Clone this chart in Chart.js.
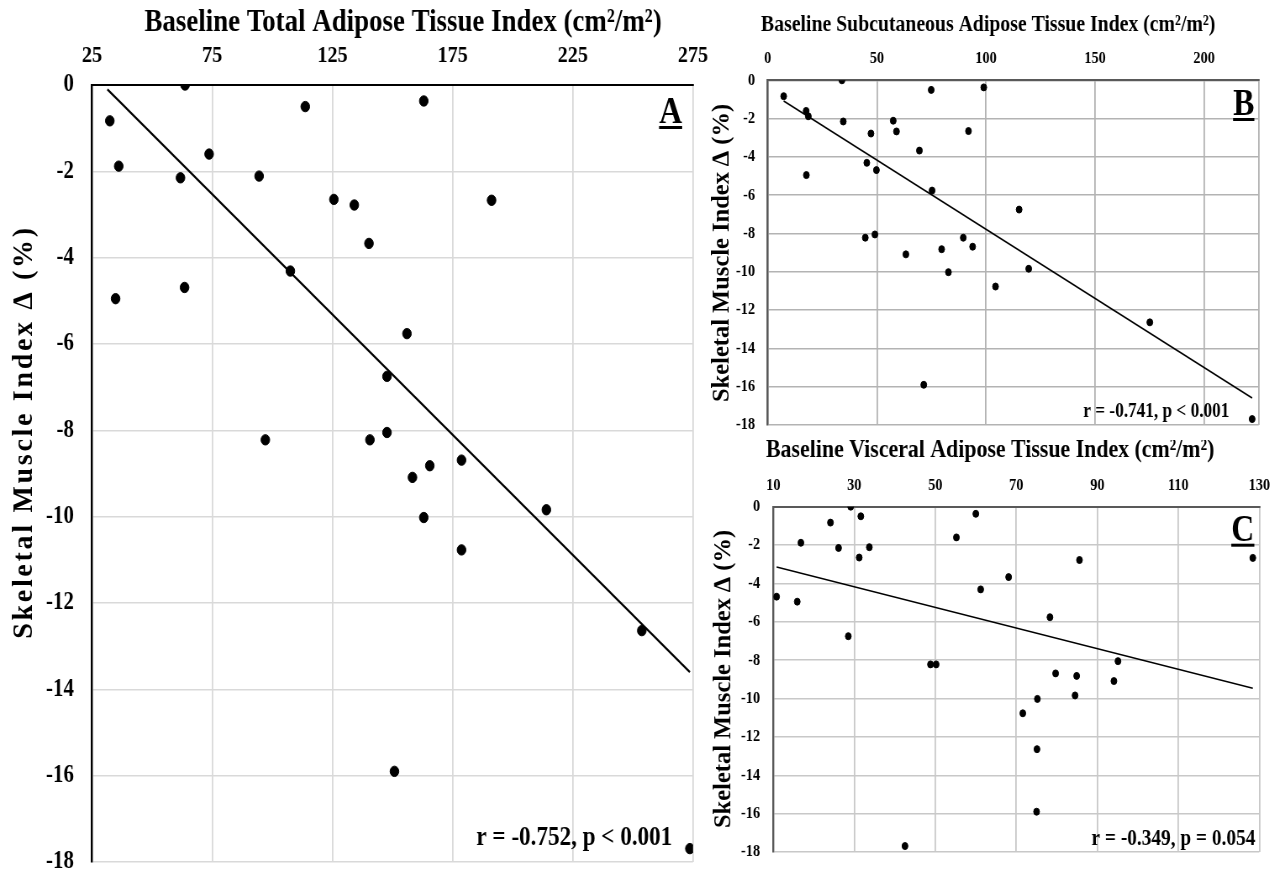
<!DOCTYPE html>
<html>
<head>
<meta charset="utf-8">
<script src="https://cdn.jsdelivr.net/npm/chart.js@4.4.0/dist/chart.umd.min.js"></script>
<style>
  html, body { margin: 0; padding: 0; background: #fff; }
  #figure { position: relative; width: 1285px; height: 878px; overflow: hidden; }
  #figure canvas { position: absolute; }
</style>
</head>
<body>
<div id="figure">
  <canvas id="panelA"></canvas>
  <canvas id="panelB"></canvas>
  <canvas id="panelC"></canvas>
</div>
<script>
// Skeletal muscle index change (%) for each subject, same order in every panel
const smiChange = [0, -0.37, -0.50, -0.83, -1.60, -1.88, -2.11, -2.15, -2.65, -2.67,
  -2.78, -3.67, -4.31, -4.69, -4.95, -5.76, -6.75, -8.05, -8.22, -8.22,
  -8.69, -8.82, -9.09, -9.84, -10.02, -10.77, -12.64, -15.90, -17.69];

// Baseline adipose tissue indices (cm²/m²)
const tatIndex = [63.7, 163.0, 113.7, 32.4, 73.7, 36.1, 94.5, 61.8, 125.6, 191.2,
  134.1, 140.2, 107.5, 63.5, 34.8, 156.0, 147.7, 147.7, 97.1, 140.6,
  178.7, 165.5, 158.3, 214.0, 163.0, 178.7, 253.7, 150.8, 273.7];
const satIndex = [34.0, 99.0, 74.9, 7.3, 17.6, 18.6, 57.5, 34.6, 92.0, 59.0,
  47.3, 69.5, 45.4, 49.8, 17.7, 75.3, 115.2, 49.1, 44.7, 89.6,
  93.9, 79.7, 63.3, 119.6, 82.8, 104.4, 175.1, 71.5, 222.0];
const vatIndex = [29.1, 60.0, 31.6, 24.1, 55.2, 16.8, 33.7, 26.1, 31.2, 128.4,
  85.6, 68.1, 61.2, 10.8, 15.9, 78.3, 28.5, 95.1, 48.8, 50.2,
  79.7, 84.9, 94.1, 84.5, 75.2, 71.6, 75.1, 75.0, 42.5];

// Linear trend lines (end points)
const trendTatX = [31.4, 273.7];
const trendTatY = [-0.10, -13.60];
const trendSatX = [7.3, 222.0];
const trendSatY = [-1.08, -16.59];
const trendVatX = [10.8, 128.4];
const trendVatY = [-3.14, -9.46];

// Tick values
const tatTicks = [25, 75, 125, 175, 225, 275];
const satTicks = [0, 50, 100, 150, 200];
const vatTicks = [10, 30, 50, 70, 90, 110, 130];
const smiTicks = [0, -2, -4, -6, -8, -10, -12, -14, -16, -18];

// the figure is drawn wider and squeezed horizontally to get the condensed type
const SQUEEZE = 0.84;
const SERIF = '"Liberation Serif", "Times New Roman", serif';
const lx = v => v / SQUEEZE;

const panelText = {
  id: 'panelText',
  afterDraw(chart, args, o) {
    const ctx = chart.ctx;
    const font = sz => `bold ${sz}px ${SERIF}`;
    ctx.save();
    ctx.fillStyle = '#000';
    ctx.textBaseline = 'alphabetic';

    // axis title above the top axis
    ctx.font = font(o.title.size);
    ctx.textAlign = 'center';
    ctx.fillText(o.title.text, lx(o.title.x), o.title.y);

    // rotated y title, undo the squeeze so it keeps natural proportions
    ctx.save();
    ctx.translate(lx(o.yTitle.x), o.yTitle.y);
    ctx.scale(1 / SQUEEZE, 1);
    ctx.rotate(-Math.PI / 2);
    ctx.font = font(o.yTitle.size);
    ctx.letterSpacing = (o.yTitle.spacing || 0) + 'px';
    ctx.textAlign = 'center';
    ctx.textBaseline = 'middle';
    ctx.fillText(o.yTitle.text, 0, 0);
    ctx.restore();

    // underlined panel letter
    ctx.font = font(o.letter.size);
    ctx.textAlign = 'right';
    ctx.fillText(o.letter.text, lx(o.letter.x), o.letter.y);
    const w = ctx.measureText(o.letter.text).width;
    ctx.fillRect(lx(o.letter.x) - w, o.letter.y + 3, w, 3);

    // correlation note
    ctx.font = font(o.note.size);
    ctx.fillText(o.note.text, lx(o.note.x), o.note.y);
    ctx.restore();
  }
};

function makePanel(id, p) {
  const canvas = document.getElementById(id);
  canvas.width = Math.round(lx(p.w));
  canvas.height = p.h;
  canvas.style.left = p.left + 'px';
  canvas.style.top = p.top + 'px';
  canvas.style.width = p.w + 'px';
  canvas.style.height = p.h + 'px';

  const points = p.xs.map((x, i) => ({ x: x, y: smiChange[i] }));
  const trend = p.trendX.map((x, i) => ({ x: x, y: p.trendY[i] }));

  return new Chart(canvas, {
    type: 'scatter',
    data: {
      datasets: [
        {
          data: points,
          backgroundColor: '#000',
          borderColor: '#000',
          pointRadius: p.dot,
          pointHoverRadius: p.dot,
          order: 1
        },
        {
          type: 'line',
          data: trend,
          borderColor: '#000',
          borderWidth: p.trendWidth,
          pointRadius: 0,
          fill: false,
          order: 2
        }
      ]
    },
    options: {
      responsive: false,
      animation: false,
      devicePixelRatio: 1,
      layout: {
        autoPadding: false,
        padding: { left: 0, top: 0, right: lx(p.padRight), bottom: p.padBottom }
      },
      plugins: {
        legend: { display: false },
        tooltip: { enabled: false },
        panelText: p.text
      },
      scales: {
        x: {
          type: 'linear',
          position: 'top',
          min: p.xMin,
          max: p.xMax,
          afterBuildTicks: s => {
            const vals = p.xTicks.slice();
            if (vals[vals.length - 1] !== p.xMax) vals.push(p.xMax);
            s.ticks = vals.map(v => ({ value: v }));
          },
          afterFit: s => {
            s.height = p.axisTop;
            s.paddingLeft = 0;
            s.paddingRight = 0;
          },
          ticks: {
            color: '#000',
            padding: p.xTickPad,
            maxRotation: 0,
            autoSkip: false,
            font: { family: SERIF, weight: 'bold', size: p.tickSize },
            callback: v => (p.xTicks.includes(v) ? String(v) : '')
          },
          grid: { color: p.grid, lineWidth: lx(p.gridWidth), drawTicks: false },
          border: { color: p.border, width: 2 }
        },
        y: {
          type: 'linear',
          min: -18,
          max: 0,
          afterBuildTicks: s => { s.ticks = smiTicks.map(v => ({ value: v })); },
          afterFit: s => {
            s.width = lx(p.axisLeft);
            s.paddingTop = 0;
            s.paddingBottom = 0;
          },
          ticks: {
            color: '#000',
            padding: lx(p.yTickPad),
            autoSkip: false,
            font: { family: SERIF, weight: 'bold', size: p.yTickSize || p.tickSize },
            callback: v => String(v)
          },
          grid: { color: p.grid, lineWidth: p.gridWidth, drawTicks: false },
          border: { color: p.border, width: lx(2) }
        }
      }
    },
    plugins: [panelText]
  });
}

// A: total adipose tissue
makePanel('panelA', {
  left: 0, top: 0, w: 715, h: 878,
  xs: tatIndex, trendX: trendTatX, trendY: trendTatY,
  xMin: 25, xMax: 275, xTicks: tatTicks,
  axisLeft: 92, axisTop: 85, padRight: 22, padBottom: 16,
  xTickPad: 15, yTickPad: 18, tickSize: 24, yTickSize: 25,
  grid: '#d9d9d9', gridWidth: 1.5, border: '#000',
  dot: 5.2, trendWidth: 2.2,
  text: {
    title: { text: 'Baseline Total Adipose Tissue Index (cm²/m²)', x: 403, y: 31, size: 32 },
    yTitle: { text: 'Skeletal Muscle Index ∆ (%)', x: 25, y: 432, size: 28, spacing: 2.7 },
    letter: { text: 'A', x: 682, y: 123, size: 38 },
    note: { text: 'r = -0.752, p < 0.001', x: 672, y: 845, size: 27.5 }
  }
});

// B: subcutaneous adipose tissue
makePanel('panelB', {
  left: 700, top: 0, w: 585, h: 440,
  xs: satIndex, trendX: trendSatX, trendY: trendSatY,
  xMin: 0, xMax: 225, xTicks: satTicks,
  axisLeft: 67.7, axisTop: 80.3, padRight: 26.3, padBottom: 15,
  xTickPad: 11, yTickPad: 12.7, tickSize: 17,
  grid: '#b3b3b3', gridWidth: 1.5, border: '#595959',
  dot: 3.5, trendWidth: 1.6,
  text: {
    title: { text: 'Baseline Subcutaneous Adipose Tissue Index (cm²/m²)', x: 288, y: 31, size: 23.5 },
    yTitle: { text: 'Skeletal Muscle Index ∆ (%)', x: 22, y: 253, size: 24.5 },
    letter: { text: 'B', x: 554, y: 115, size: 38 },
    note: { text: 'r = -0.741, p < 0.001', x: 529, y: 417, size: 20.5 }
  }
});

// C: visceral adipose tissue
makePanel('panelC', {
  left: 700, top: 440, w: 585, h: 438,
  xs: vatIndex, trendX: trendVatX, trendY: trendVatY,
  xMin: 10, xMax: 130, xTicks: vatTicks,
  axisLeft: 73.3, axisTop: 66.7, padRight: 25.7, padBottom: 26,
  xTickPad: 11, yTickPad: 13.3, tickSize: 17,
  grid: '#c8c8c8', gridWidth: 1.5, border: '#595959',
  dot: 3.5, trendWidth: 1.6,
  text: {
    title: { text: 'Baseline Visceral Adipose Tissue Index (cm²/m²)', x: 290, y: 17.3, size: 26 },
    yTitle: { text: 'Skeletal Muscle Index ∆ (%)', x: 23.5, y: 239, size: 24.5 },
    letter: { text: 'C', x: 554, y: 100.7, size: 38 },
    note: { text: 'r = -0.349, p = 0.054', x: 555, y: 405, size: 23 }
  }
});
</script>
</body>
</html>
